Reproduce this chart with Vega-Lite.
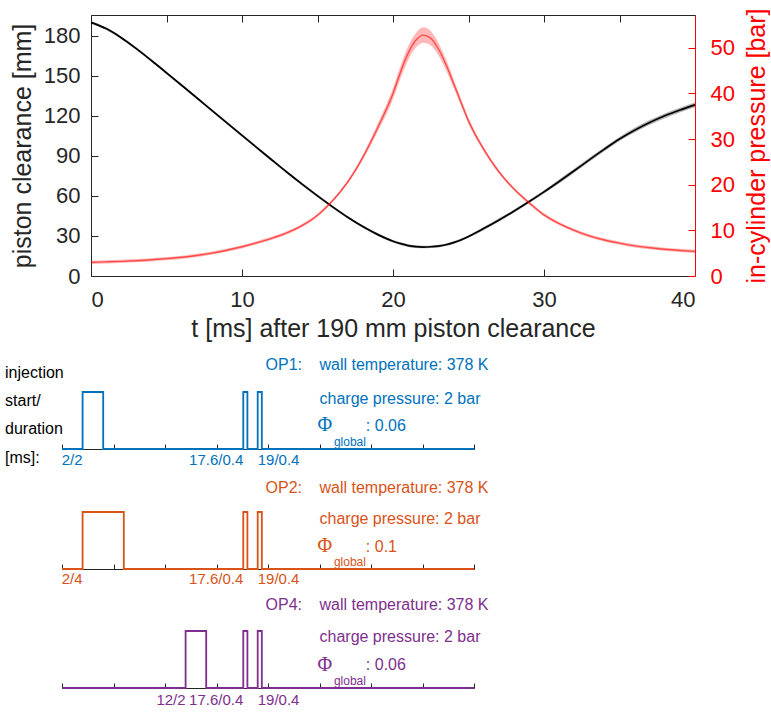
{
  "$schema": "https://vega.github.io/schema/vega-lite/v6.json",
  "padding": {"left": 5, "top": 7, "right": 0, "bottom": 0},
  "spacing": 0,
  "config": {
    "view": {"stroke": null},
    "text": {"font": "Liberation Sans"},
    "axis": {"grid": false, "labelFont": "Liberation Sans", "titleFont": "Liberation Sans", "titleFontWeight": "normal", "labelColor": "#262626", "titleColor": "#262626", "domainColor": "#262626", "tickColor": "#262626"}
  },
  "datasets": {
    "curve": [
      {"t": 0, "clr": 190, "clr_lo": 189, "clr_hi": 191, "p": 3.0, "p_lo": 2.65, "p_hi": 3.35},
      {"t": 1, "clr": 185.3, "clr_lo": 184.3, "clr_hi": 186.3, "p": 3.1, "p_lo": 2.75, "p_hi": 3.45},
      {"t": 2, "clr": 178.5, "clr_lo": 177.5, "clr_hi": 179.5, "p": 3.2, "p_lo": 2.85, "p_hi": 3.55},
      {"t": 3, "clr": 170.3, "clr_lo": 169.3, "clr_hi": 171.3, "p": 3.35, "p_lo": 3.0, "p_hi": 3.7},
      {"t": 4, "clr": 161.4, "clr_lo": 160.4, "clr_hi": 162.4, "p": 3.55, "p_lo": 3.2, "p_hi": 3.9},
      {"t": 5, "clr": 152.2, "clr_lo": 151.2, "clr_hi": 153.2, "p": 3.8, "p_lo": 3.45, "p_hi": 4.15},
      {"t": 6, "clr": 142.9, "clr_lo": 141.9, "clr_hi": 143.9, "p": 4.1, "p_lo": 3.75, "p_hi": 4.45},
      {"t": 7, "clr": 133.5, "clr_lo": 132.5, "clr_hi": 134.5, "p": 4.5, "p_lo": 4.15, "p_hi": 4.85},
      {"t": 8, "clr": 124.1, "clr_lo": 123.1, "clr_hi": 125.1, "p": 5.0, "p_lo": 4.65, "p_hi": 5.35},
      {"t": 9, "clr": 114.7, "clr_lo": 113.7, "clr_hi": 115.7, "p": 5.65, "p_lo": 5.3, "p_hi": 6.0},
      {"t": 10, "clr": 105.3, "clr_lo": 104.3, "clr_hi": 106.3, "p": 6.4, "p_lo": 6.05, "p_hi": 6.75},
      {"t": 11, "clr": 96.0, "clr_lo": 95.0, "clr_hi": 97.0, "p": 7.3, "p_lo": 6.95, "p_hi": 7.65},
      {"t": 12, "clr": 86.7, "clr_lo": 85.7, "clr_hi": 87.7, "p": 8.3, "p_lo": 7.95, "p_hi": 8.65},
      {"t": 13, "clr": 77.5, "clr_lo": 76.5, "clr_hi": 78.5, "p": 9.5, "p_lo": 9.15, "p_hi": 9.85},
      {"t": 14, "clr": 68.6, "clr_lo": 67.6, "clr_hi": 69.6, "p": 11.1, "p_lo": 10.75, "p_hi": 11.45},
      {"t": 15, "clr": 60.0, "clr_lo": 59.0, "clr_hi": 61.0, "p": 13.3, "p_lo": 12.95, "p_hi": 13.65},
      {"t": 16, "clr": 51.8, "clr_lo": 50.8, "clr_hi": 52.8, "p": 16.5, "p_lo": 16.15, "p_hi": 16.85},
      {"t": 17, "clr": 44.0, "clr_lo": 43.0, "clr_hi": 45.0, "p": 20.6, "p_lo": 20.2, "p_hi": 21.0},
      {"t": 18, "clr": 37.0, "clr_lo": 36.0, "clr_hi": 38.0, "p": 26.0, "p_lo": 25.4, "p_hi": 26.6},
      {"t": 19, "clr": 31.0, "clr_lo": 30.0, "clr_hi": 32.0, "p": 32.6, "p_lo": 31.7, "p_hi": 33.5},
      {"t": 20, "clr": 26.0, "clr_lo": 25.0, "clr_hi": 27.0, "p": 40.0, "p_lo": 38.8, "p_hi": 41.2},
      {"t": 20.5, "clr": 24.2, "clr_lo": 23.2, "clr_hi": 25.2, "p": 44.7, "p_lo": 43.3, "p_hi": 46.1},
      {"t": 21, "clr": 22.8, "clr_lo": 21.8, "clr_hi": 23.8, "p": 48.8, "p_lo": 47.3, "p_hi": 50.3},
      {"t": 21.5, "clr": 22.0, "clr_lo": 21.0, "clr_hi": 23.0, "p": 51.6, "p_lo": 50.0, "p_hi": 53.2},
      {"t": 22, "clr": 21.7, "clr_lo": 20.7, "clr_hi": 22.7, "p": 52.8, "p_lo": 51.1, "p_hi": 54.5},
      {"t": 22.5, "clr": 21.9, "clr_lo": 20.9, "clr_hi": 22.9, "p": 52.1, "p_lo": 50.5, "p_hi": 53.7},
      {"t": 23, "clr": 22.4, "clr_lo": 21.4, "clr_hi": 23.4, "p": 49.8, "p_lo": 48.4, "p_hi": 51.2},
      {"t": 23.5, "clr": 23.4, "clr_lo": 22.4, "clr_hi": 24.4, "p": 46.4, "p_lo": 45.2, "p_hi": 47.6},
      {"t": 24, "clr": 25.0, "clr_lo": 24.0, "clr_hi": 26.0, "p": 42.3, "p_lo": 41.3, "p_hi": 43.3},
      {"t": 24.5, "clr": 27.0, "clr_lo": 26.0, "clr_hi": 28.0, "p": 38.1, "p_lo": 37.3, "p_hi": 38.9},
      {"t": 25, "clr": 29.6, "clr_lo": 28.6, "clr_hi": 30.6, "p": 34.0, "p_lo": 33.3, "p_hi": 34.7},
      {"t": 26, "clr": 35.5, "clr_lo": 34.3, "clr_hi": 36.7, "p": 27.8, "p_lo": 27.3, "p_hi": 28.3},
      {"t": 27, "clr": 41.8, "clr_lo": 40.6, "clr_hi": 43.0, "p": 22.9, "p_lo": 22.5, "p_hi": 23.3},
      {"t": 28, "clr": 48.5, "clr_lo": 47.3, "clr_hi": 49.7, "p": 19.1, "p_lo": 18.75, "p_hi": 19.45},
      {"t": 29, "clr": 55.6, "clr_lo": 54.4, "clr_hi": 56.8, "p": 16.1, "p_lo": 15.75, "p_hi": 16.45},
      {"t": 30, "clr": 63.0, "clr_lo": 61.8, "clr_hi": 64.2, "p": 13.4, "p_lo": 13.05, "p_hi": 13.75},
      {"t": 31, "clr": 70.8, "clr_lo": 69.3, "clr_hi": 72.3, "p": 11.5, "p_lo": 11.15, "p_hi": 11.85},
      {"t": 32, "clr": 78.8, "clr_lo": 77.3, "clr_hi": 80.3, "p": 10.0, "p_lo": 9.65, "p_hi": 10.35},
      {"t": 33, "clr": 87.0, "clr_lo": 85.5, "clr_hi": 88.5, "p": 8.8, "p_lo": 8.45, "p_hi": 9.15},
      {"t": 34, "clr": 95.0, "clr_lo": 93.5, "clr_hi": 96.5, "p": 7.9, "p_lo": 7.55, "p_hi": 8.25},
      {"t": 35, "clr": 102.6, "clr_lo": 101.1, "clr_hi": 104.1, "p": 7.2, "p_lo": 6.85, "p_hi": 7.55},
      {"t": 36, "clr": 109.2, "clr_lo": 107.4, "clr_hi": 111.0, "p": 6.6, "p_lo": 6.25, "p_hi": 6.95},
      {"t": 37, "clr": 115.0, "clr_lo": 113.2, "clr_hi": 116.8, "p": 6.2, "p_lo": 5.85, "p_hi": 6.55},
      {"t": 38, "clr": 120.0, "clr_lo": 118.2, "clr_hi": 121.8, "p": 5.85, "p_lo": 5.5, "p_hi": 6.2},
      {"t": 39, "clr": 124.3, "clr_lo": 122.5, "clr_hi": 126.1, "p": 5.6, "p_lo": 5.25, "p_hi": 5.95},
      {"t": 40, "clr": 128.2, "clr_lo": 126.4, "clr_hi": 130.0, "p": 5.4, "p_lo": 5.05, "p_hi": 5.75}
    ],
    "bottom": [
      {"op": "OP1", "kind": "pulse", "i": 0, "t": 0, "y": 0},
      {"op": "OP1", "kind": "pulse", "i": 1, "t": 2, "y": 0},
      {"op": "OP1", "kind": "pulse", "i": 2, "t": 2, "y": 57},
      {"op": "OP1", "kind": "pulse", "i": 3, "t": 4, "y": 57},
      {"op": "OP1", "kind": "pulse", "i": 4, "t": 4, "y": 0},
      {"op": "OP1", "kind": "pulse", "i": 5, "t": 17.6, "y": 0},
      {"op": "OP1", "kind": "pulse", "i": 6, "t": 17.6, "y": 57},
      {"op": "OP1", "kind": "pulse", "i": 7, "t": 18, "y": 57},
      {"op": "OP1", "kind": "pulse", "i": 8, "t": 18, "y": 0},
      {"op": "OP1", "kind": "pulse", "i": 9, "t": 19, "y": 0},
      {"op": "OP1", "kind": "pulse", "i": 10, "t": 19, "y": 57},
      {"op": "OP1", "kind": "pulse", "i": 11, "t": 19.4, "y": 57},
      {"op": "OP1", "kind": "pulse", "i": 12, "t": 19.4, "y": 0},
      {"op": "OP1", "kind": "pulse", "i": 13, "t": 40, "y": 0},
      {"op": "OP2", "kind": "pulse", "i": 0, "t": 0, "y": 0},
      {"op": "OP2", "kind": "pulse", "i": 1, "t": 2, "y": 0},
      {"op": "OP2", "kind": "pulse", "i": 2, "t": 2, "y": 57},
      {"op": "OP2", "kind": "pulse", "i": 3, "t": 6, "y": 57},
      {"op": "OP2", "kind": "pulse", "i": 4, "t": 6, "y": 0},
      {"op": "OP2", "kind": "pulse", "i": 5, "t": 17.6, "y": 0},
      {"op": "OP2", "kind": "pulse", "i": 6, "t": 17.6, "y": 57},
      {"op": "OP2", "kind": "pulse", "i": 7, "t": 18, "y": 57},
      {"op": "OP2", "kind": "pulse", "i": 8, "t": 18, "y": 0},
      {"op": "OP2", "kind": "pulse", "i": 9, "t": 19, "y": 0},
      {"op": "OP2", "kind": "pulse", "i": 10, "t": 19, "y": 57},
      {"op": "OP2", "kind": "pulse", "i": 11, "t": 19.4, "y": 57},
      {"op": "OP2", "kind": "pulse", "i": 12, "t": 19.4, "y": 0},
      {"op": "OP2", "kind": "pulse", "i": 13, "t": 40, "y": 0},
      {"op": "OP4", "kind": "pulse", "i": 0, "t": 0, "y": 0},
      {"op": "OP4", "kind": "pulse", "i": 1, "t": 12, "y": 0},
      {"op": "OP4", "kind": "pulse", "i": 2, "t": 12, "y": 57},
      {"op": "OP4", "kind": "pulse", "i": 3, "t": 14, "y": 57},
      {"op": "OP4", "kind": "pulse", "i": 4, "t": 14, "y": 0},
      {"op": "OP4", "kind": "pulse", "i": 5, "t": 17.6, "y": 0},
      {"op": "OP4", "kind": "pulse", "i": 6, "t": 17.6, "y": 57},
      {"op": "OP4", "kind": "pulse", "i": 7, "t": 18, "y": 57},
      {"op": "OP4", "kind": "pulse", "i": 8, "t": 18, "y": 0},
      {"op": "OP4", "kind": "pulse", "i": 9, "t": 19, "y": 0},
      {"op": "OP4", "kind": "pulse", "i": 10, "t": 19, "y": 57},
      {"op": "OP4", "kind": "pulse", "i": 11, "t": 19.4, "y": 57},
      {"op": "OP4", "kind": "pulse", "i": 12, "t": 19.4, "y": 0},
      {"op": "OP4", "kind": "pulse", "i": 13, "t": 40, "y": 0},

      {"op": "OP1", "kind": "op", "t": 23.3, "y": 84, "text": "OP1:"},
      {"op": "OP1", "kind": "info", "t": 25, "y": 84, "text": "wall temperature: 378 K"},
      {"op": "OP1", "kind": "info", "t": 25, "y": 50, "text": "charge pressure: 2 bar"},
      {"op": "OP1", "kind": "phi", "t": 24.8, "y": 24, "text": "Φ"},
      {"op": "OP1", "kind": "sub", "t": 26.4, "y": 7, "text": "global"},
      {"op": "OP1", "kind": "info", "t": 29.5, "y": 23, "text": ": 0.06"},
      {"op": "OP1", "kind": "labR", "t": 2, "y": -11, "text": "2/2"},
      {"op": "OP1", "kind": "labR", "t": 17.6, "y": -11, "text": "17.6/0.4"},
      {"op": "OP1", "kind": "labL", "t": 19, "y": -11, "text": "19/0.4"},
      {"op": "OP1", "kind": "side", "t": -5.53, "y": 76.5, "text": "injection"},
      {"op": "OP1", "kind": "side", "t": -5.53, "y": 48.5, "text": "start/"},
      {"op": "OP1", "kind": "side", "t": -5.53, "y": 20, "text": "duration"},
      {"op": "OP1", "kind": "side", "t": -5.53, "y": -9, "text": "[ms]:"},

      {"op": "OP2", "kind": "op", "t": 23.3, "y": 81, "text": "OP2:"},
      {"op": "OP2", "kind": "info", "t": 25, "y": 81, "text": "wall temperature: 378 K"},
      {"op": "OP2", "kind": "info", "t": 25, "y": 50, "text": "charge pressure: 2 bar"},
      {"op": "OP2", "kind": "phi", "t": 24.8, "y": 23, "text": "Φ"},
      {"op": "OP2", "kind": "sub", "t": 26.4, "y": 7, "text": "global"},
      {"op": "OP2", "kind": "info", "t": 29.5, "y": 22, "text": ": 0.1"},
      {"op": "OP2", "kind": "labR", "t": 2, "y": -10, "text": "2/4"},
      {"op": "OP2", "kind": "labR", "t": 17.6, "y": -10, "text": "17.6/0.4"},
      {"op": "OP2", "kind": "labL", "t": 19, "y": -10, "text": "19/0.4"},

      {"op": "OP4", "kind": "op", "t": 23.3, "y": 83, "text": "OP4:"},
      {"op": "OP4", "kind": "info", "t": 25, "y": 83, "text": "wall temperature: 378 K"},
      {"op": "OP4", "kind": "info", "t": 25, "y": 51, "text": "charge pressure: 2 bar"},
      {"op": "OP4", "kind": "phi", "t": 24.8, "y": 23, "text": "Φ"},
      {"op": "OP4", "kind": "sub", "t": 26.4, "y": 7, "text": "global"},
      {"op": "OP4", "kind": "info", "t": 29.5, "y": 23, "text": ": 0.06"},
      {"op": "OP4", "kind": "labR", "t": 12, "y": -12, "text": "12/2"},
      {"op": "OP4", "kind": "labR", "t": 17.6, "y": -12, "text": "17.6/0.4"},
      {"op": "OP4", "kind": "labL", "t": 19, "y": -12, "text": "19/0.4"}
    ]
  },
  "vconcat": [
    {
      "width": 604,
      "height": 261,
      "data": {"name": "curve"},
      "layer": [
        {
          "encoding": {
            "x": {"field": "t", "type": "quantitative", "scale": {"domain": [0, 40], "nice": false},
              "axis": {"orient": "bottom", "values": [0, 10, 20, 30, 40], "tickSize": -7, "labelPadding": 20, "labelFontSize": 22, "title": "t [ms] after 190 mm piston clearance", "titleFontSize": 25, "titlePadding": 6}}
          },
          "layer": [
            {
              "mark": {"type": "area", "color": "#000000", "opacity": 0.3, "interpolate": "monotone"},
              "encoding": {
                "y": {"field": "clr_lo", "type": "quantitative", "scale": {"domain": [0, 195.5], "nice": false},
                  "axis": {"orient": "left", "values": [0, 30, 60, 90, 120, 150, 180], "tickSize": -7, "labelPadding": 18, "labelFontSize": 22, "title": "piston clearance [mm]", "titleFontSize": 25, "titlePadding": 8}},
                "y2": {"field": "clr_hi"}
              }
            },
            {
              "mark": {"type": "line", "color": "#000000", "strokeWidth": 1.7, "interpolate": "monotone"},
              "encoding": {"y": {"field": "clr", "type": "quantitative", "title": "piston clearance [mm]"}}
            }
          ]
        },
        {
          "encoding": {
            "x": {"field": "t", "type": "quantitative", "scale": {"domain": [0, 40], "nice": false},
              "axis": {"orient": "top", "values": [0, 5, 10, 15, 20, 25, 30, 35, 40], "tickSize": -7, "labels": false, "title": null}}
          },
          "layer": [
            {
              "mark": {"type": "area", "color": "#ff0000", "opacity": 0.28, "interpolate": "monotone"},
              "encoding": {
                "y": {"field": "p_lo", "type": "quantitative", "scale": {"domain": [0, 57.2], "nice": false},
                  "axis": {"orient": "right", "values": [0, 10, 20, 30, 40, 50], "tickSize": -7, "labelPadding": 22, "labelFontSize": 22, "title": "in-cylinder pressure [bar]", "titleFontSize": 25, "titlePadding": 10, "titleAngle": 270, "titleBaseline": "top", "domainColor": "#ff0000", "tickColor": "#ff0000", "labelColor": "#ff0000", "titleColor": "#ff0000"}},
                "y2": {"field": "p_hi"}
              }
            },
            {
              "mark": {"type": "line", "color": "#ff0000", "opacity": 0.6, "strokeWidth": 1.4, "interpolate": "monotone"},
              "encoding": {"y": {"field": "p", "type": "quantitative", "title": "in-cylinder pressure [bar]"}}
            }
          ]
        }
      ],
      "resolve": {"scale": {"y": "independent"}, "axis": {"x": "independent", "y": "independent"}}
    },
    {
      "width": 383,
      "height": 108,
      "data": {"name": "bottom"},
      "transform": [{"filter": "datum.op === 'OP1'"}],
      "encoding": {
        "x": {"field": "t", "type": "quantitative", "scale": {"domain": [0, 40], "range": [-29, 383], "nice": false, "zero": false},
          "axis": {"values": [0, 5, 10, 15, 20, 25, 30, 35, 40], "labels": false, "tickSize": -5, "title": null}},
        "y": {"field": "y", "type": "quantitative", "scale": {"domain": [0, 108], "nice": false, "zero": false}, "axis": null}
      },
      "layer": [
        {"transform": [{"filter": "datum.kind === 'pulse'"}], "mark": {"type": "line", "color": "#0072BD", "strokeWidth": 1.8}, "encoding": {"order": {"field": "i", "type": "quantitative"}}},
        {"transform": [{"filter": "datum.kind === 'info'"}], "mark": {"type": "text", "align": "left", "baseline": "middle", "fontSize": 16, "color": "#0072BD"}, "encoding": {"text": {"field": "text"}}},
        {"transform": [{"filter": "datum.kind === 'labL'"}], "mark": {"type": "text", "align": "left", "baseline": "middle", "fontSize": 15, "color": "#0072BD"}, "encoding": {"text": {"field": "text"}}},
        {"transform": [{"filter": "datum.kind === 'op'"}], "mark": {"type": "text", "align": "right", "baseline": "middle", "fontSize": 16, "color": "#0072BD"}, "encoding": {"text": {"field": "text"}}},
        {"transform": [{"filter": "datum.kind === 'labR'"}], "mark": {"type": "text", "align": "right", "baseline": "middle", "fontSize": 15, "color": "#0072BD"}, "encoding": {"text": {"field": "text"}}},
        {"transform": [{"filter": "datum.kind === 'sub'"}], "mark": {"type": "text", "align": "left", "baseline": "middle", "fontSize": 12, "color": "#0072BD"}, "encoding": {"text": {"field": "text"}}},
        {"transform": [{"filter": "datum.kind === 'phi'"}], "mark": {"type": "text", "align": "left", "baseline": "middle", "fontSize": 20, "font": "Liberation Serif", "color": "#0072BD"}, "encoding": {"text": {"field": "text"}}},
        {"transform": [{"filter": "datum.kind === 'side'"}], "mark": {"type": "text", "align": "left", "baseline": "middle", "fontSize": 16, "color": "#000000"}, "encoding": {"text": {"field": "text"}}}
      ]
    },
    {
      "width": 383,
      "height": 101,
      "data": {"name": "bottom"},
      "transform": [{"filter": "datum.op === 'OP2'"}],
      "encoding": {
        "x": {"field": "t", "type": "quantitative", "scale": {"domain": [0, 40], "range": [-29, 383], "nice": false, "zero": false},
          "axis": {"values": [0, 5, 10, 15, 20, 25, 30, 35, 40], "labels": false, "tickSize": -5, "title": null}},
        "y": {"field": "y", "type": "quantitative", "scale": {"domain": [0, 101], "nice": false, "zero": false}, "axis": null}
      },
      "layer": [
        {"transform": [{"filter": "datum.kind === 'pulse'"}], "mark": {"type": "line", "color": "#D95319", "strokeWidth": 1.8}, "encoding": {"order": {"field": "i", "type": "quantitative"}}},
        {"transform": [{"filter": "datum.kind === 'info'"}], "mark": {"type": "text", "align": "left", "baseline": "middle", "fontSize": 16, "color": "#D95319"}, "encoding": {"text": {"field": "text"}}},
        {"transform": [{"filter": "datum.kind === 'labL'"}], "mark": {"type": "text", "align": "left", "baseline": "middle", "fontSize": 15, "color": "#D95319"}, "encoding": {"text": {"field": "text"}}},
        {"transform": [{"filter": "datum.kind === 'op'"}], "mark": {"type": "text", "align": "right", "baseline": "middle", "fontSize": 16, "color": "#D95319"}, "encoding": {"text": {"field": "text"}}},
        {"transform": [{"filter": "datum.kind === 'labR'"}], "mark": {"type": "text", "align": "right", "baseline": "middle", "fontSize": 15, "color": "#D95319"}, "encoding": {"text": {"field": "text"}}},
        {"transform": [{"filter": "datum.kind === 'sub'"}], "mark": {"type": "text", "align": "left", "baseline": "middle", "fontSize": 12, "color": "#D95319"}, "encoding": {"text": {"field": "text"}}},
        {"transform": [{"filter": "datum.kind === 'phi'"}], "mark": {"type": "text", "align": "left", "baseline": "middle", "fontSize": 20, "font": "Liberation Serif", "color": "#D95319"}, "encoding": {"text": {"field": "text"}}}
      ]
    },
    {
      "width": 383,
      "height": 100,
      "data": {"name": "bottom"},
      "transform": [{"filter": "datum.op === 'OP4'"}],
      "encoding": {
        "x": {"field": "t", "type": "quantitative", "scale": {"domain": [0, 40], "range": [-29, 383], "nice": false, "zero": false},
          "axis": {"values": [0, 5, 10, 15, 20, 25, 30, 35, 40], "labels": false, "tickSize": -5, "title": null}},
        "y": {"field": "y", "type": "quantitative", "scale": {"domain": [0, 100], "nice": false, "zero": false}, "axis": null}
      },
      "layer": [
        {"transform": [{"filter": "datum.kind === 'pulse'"}], "mark": {"type": "line", "color": "#7E2F8E", "strokeWidth": 1.8}, "encoding": {"order": {"field": "i", "type": "quantitative"}}},
        {"transform": [{"filter": "datum.kind === 'info'"}], "mark": {"type": "text", "align": "left", "baseline": "middle", "fontSize": 16, "color": "#7E2F8E"}, "encoding": {"text": {"field": "text"}}},
        {"transform": [{"filter": "datum.kind === 'labL'"}], "mark": {"type": "text", "align": "left", "baseline": "middle", "fontSize": 15, "color": "#7E2F8E"}, "encoding": {"text": {"field": "text"}}},
        {"transform": [{"filter": "datum.kind === 'op'"}], "mark": {"type": "text", "align": "right", "baseline": "middle", "fontSize": 16, "color": "#7E2F8E"}, "encoding": {"text": {"field": "text"}}},
        {"transform": [{"filter": "datum.kind === 'labR'"}], "mark": {"type": "text", "align": "right", "baseline": "middle", "fontSize": 15, "color": "#7E2F8E"}, "encoding": {"text": {"field": "text"}}},
        {"transform": [{"filter": "datum.kind === 'sub'"}], "mark": {"type": "text", "align": "left", "baseline": "middle", "fontSize": 12, "color": "#7E2F8E"}, "encoding": {"text": {"field": "text"}}},
        {"transform": [{"filter": "datum.kind === 'phi'"}], "mark": {"type": "text", "align": "left", "baseline": "middle", "fontSize": 20, "font": "Liberation Serif", "color": "#7E2F8E"}, "encoding": {"text": {"field": "text"}}}
      ]
    }
  ]
}
